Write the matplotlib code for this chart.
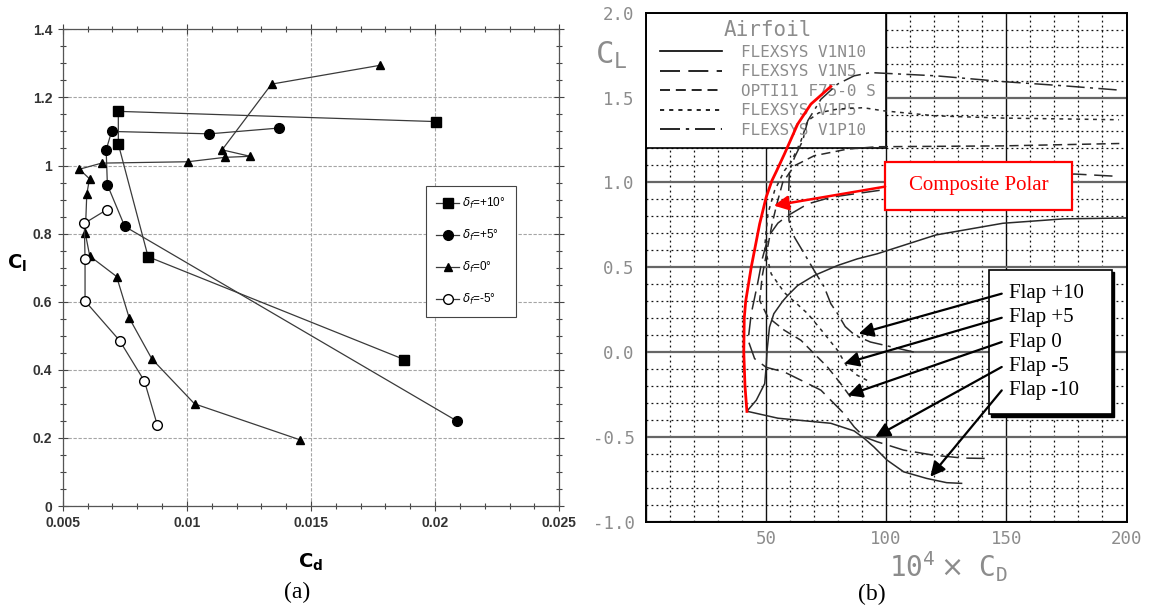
import matplotlib.pyplot as plt
from matplotlib.patches import Rectangle
from matplotlib.lines import Line2D
from matplotlib.ticker import MultipleLocator

W, H = 1153, 608

# --- (a) measured polars, cd vs cl, per flap setting
cd_p10 = [0.01876, 0.00844, 0.00724, 0.00724, 0.02003]
cl_p10 = [0.430, 0.732, 1.063, 1.159, 1.129]
cd_p5 = [0.02089, 0.00750, 0.00680, 0.00675, 0.00697, 0.01091, 0.01371]
cl_p5 = [0.249, 0.821, 0.943, 1.046, 1.100, 1.093, 1.110]
cd_0 = [0.01457, 0.01031, 0.00859, 0.00768, 0.00717, 0.00609, 0.00591, 0.00597,
        0.00608, 0.00567, 0.00657, 0.01004, 0.01154, 0.01255, 0.01142, 0.01341, 0.01776]
cl_0 = [0.194, 0.300, 0.432, 0.552, 0.674, 0.734, 0.801, 0.916,
        0.961, 0.989, 1.007, 1.011, 1.024, 1.027, 1.046, 1.239, 1.294]
cd_m5 = [0.00881, 0.00829, 0.00729, 0.00590, 0.00590, 0.00587, 0.00677]
cl_m5 = [0.238, 0.367, 0.486, 0.602, 0.725, 0.830, 0.870]
labels_a = [r'$\delta_f$=+10°', r'$\delta_f$=+5°', r'$\delta_f$=0°', r'$\delta_f$=-5°']

# --- (b) computed polars, 1e4*CD vs CL
cd_n10 = [131.4, 125.2, 116.9, 107.3, 100.4, 94.9, 91.0, 86.7, 77.0, 66.0, 55.0, 42.1,
          46.0, 49.5, 50.1, 50.5, 51.5, 53.3, 57.0, 59.1, 63.2, 70.1, 79.8, 88.0, 96.3,
          120.7, 148.6, 174.0, 199.5]
cl_n10 = [-0.774, -0.77, -0.745, -0.706, -0.637, -0.559, -0.51, -0.465, -0.42, -0.405, -0.39, -0.349,
          -0.284, -0.186, -0.088, 0.01, 0.147, 0.226, 0.30, 0.334, 0.392, 0.451, 0.51, 0.549, 0.579,
          0.69, 0.759, 0.785, 0.79]
cd_n5 = [141.0, 132.0, 119.7, 107.3, 96.3, 90.8, 86.7, 82.5, 77.0, 72.9, 66.0, 57.7, 50.1,
         45.3, 42.6, 43.9, 46.5, 48.5, 51.0, 55.0, 59.1, 67.4, 77.0, 86.7, 96.3, 120.0,
         150.0, 178.5, 197.0]
cl_n5 = [-0.627, -0.625, -0.608, -0.578, -0.529, -0.5, -0.441, -0.363, -0.284, -0.225, -0.176, -0.118, -0.09,
         -0.039, 0.069, 0.226, 0.40, 0.55, 0.68, 0.76, 0.804, 0.873, 0.912, 0.932, 0.951, 1.0,
         1.04, 1.049, 1.035]
cd_opt = [85.2, 81.1, 75.6, 70.1, 64.6, 57.7, 50.8, 47.4, 48.5, 50.5, 52.5, 54.5, 57.0,
          61.9, 70.1, 83.9, 96.3, 148.6, 197.0]
cl_opt = [-0.265, -0.186, -0.088, -0.01, 0.069, 0.128, 0.206, 0.304, 0.45, 0.6, 0.75, 0.87, 1.0,
          1.098, 1.157, 1.196, 1.21, 1.215, 1.229]
cd_p5b = [92.1, 88.0, 83.9, 79.8, 74.3, 67.4, 63.2, 57.7, 52.2, 49.5, 50.8, 53.6, 57.7,
          60.5, 64.6, 67.4, 72.0, 79.8, 90.5, 98.8, 120.7, 148.6, 196.9]
cl_p5b = [-0.167, -0.137, -0.088, 0.01, 0.108, 0.226, 0.28, 0.35, 0.461, 0.618, 0.814, 0.951, 1.069,
          1.12, 1.245, 1.363, 1.41, 1.432, 1.44, 1.422, 1.392, 1.379, 1.369]
cd_p10b = [111.5, 102.4, 93.5, 87.1, 83.0, 79.8, 77.0, 74.3, 70.1, 66.0, 61.9, 59.6, 59.4,
           59.8, 62.0, 65.3, 67.4, 72.9, 79.8, 86.7, 93.5, 120.7, 148.6, 174.0, 196.9]
cl_p10b = [0.0, 0.03, 0.059, 0.098, 0.15, 0.226, 0.285, 0.382, 0.48, 0.579, 0.676, 0.775, 0.912,
           1.069, 1.15, 1.245, 1.363, 1.49, 1.579, 1.628, 1.647, 1.628, 1.594, 1.569, 1.544]
cd_comp = [42.1, 41.3, 40.8, 41.0, 41.6, 43.9, 47.4, 50.1, 52.5, 54.5, 57.7, 63.2, 68.7, 77.0]
cl_comp = [-0.35, -0.2, 0.0, 0.2, 0.3, 0.5, 0.755, 0.912, 1.01, 1.069, 1.167, 1.343, 1.461, 1.565]
names_b = ['FLEXSYS V1N10', 'FLEXSYS V1N5', 'OPTI11 F75-0 S', 'FLEXSYS V1P5', 'FLEXSYS V1P10']

# flap labels and where their arrows point
flap_labels = ['Flap +10', 'Flap +5', 'Flap 0', 'Flap -5', 'Flap -10']
flap_text_y = [0.344, 0.202, 0.059, -0.088, -0.226]
flap_tip_cd = [88.6, 82.6, 84.0, 95.5, 118.4]
flap_tip_cl = [0.108, -0.068, -0.255, -0.5, -0.735]

fig = plt.figure(figsize=(W / 100, H / 100), dpi=100)
sans = 'Liberation Sans'
mono = 'DejaVu Sans Mono'
gray = '#8c8c8c'

# ===================== (a) =====================
ax1 = fig.add_axes([62.7 / W, 1 - 506 / H, 496.6 / W, 476.7 / H])
lc = '#3a3a3a'
ax1.plot(cd_p10, cl_p10, '-', color=lc, lw=0.9, marker='s', ms=6.5, mfc='k', mec='k', label=labels_a[0])
ax1.plot(cd_p5, cl_p5, '-', color=lc, lw=0.9, marker='o', ms=7, mfc='k', mec='k', label=labels_a[1])
ax1.plot(cd_0, cl_0, '-', color=lc, lw=0.9, marker='^', ms=5.5, mfc='k', mec='k', label=labels_a[2])
ax1.plot(cd_m5, cl_m5, '-', color=lc, lw=0.9, marker='o', ms=7, mfc='w', mec='k', label=labels_a[3])

ax1.set_xlim(0.005, 0.025)
ax1.set_ylim(0, 1.4)
ax1.set_xticks([0.005, 0.01, 0.015, 0.02, 0.025])
ax1.set_xticklabels(['0.005', '0.01', '0.015', '0.02', '0.025'])
ax1.set_yticks([0, 0.2, 0.4, 0.6, 0.8, 1.0, 1.2, 1.4])
ax1.set_yticklabels(['0', '0.2', '0.4', '0.6', '0.8', '1', '1.2', '1.4'])
ax1.xaxis.set_minor_locator(MultipleLocator(0.001))
ax1.yaxis.set_minor_locator(MultipleLocator(0.05))
ax1.tick_params(which='both', direction='inout', top=True, right=True, color='#444', width=0.8)
ax1.tick_params(which='major', length=7, labelsize=10, pad=4)
ax1.tick_params(which='minor', length=4)
for t in ax1.get_xticklabels() + ax1.get_yticklabels():
    t.set_family(sans)
    t.set_weight('bold')
    t.set_color('#333')
ax1.grid(True, which='major', color='#a5a5a5', lw=0.8, ls=(0, (3, 1.5)))
for s in ax1.spines.values():
    s.set_color('#555')
    s.set_linewidth(0.9)

leg1 = ax1.legend(loc='upper left', bbox_to_anchor=(0.731, 0.672), borderaxespad=0,
                  fancybox=False, framealpha=1, edgecolor='#444', handlelength=2.0,
                  handletextpad=0.25, labelspacing=1.45, borderpad=0.85,
                  prop={'family': sans, 'size': 8.5})
leg1.get_frame().set_linewidth(0.8)

fig.text(17 / W, 1 - 263 / H, r'$\mathbf{C_l}$', fontsize=14, ha='center', va='center')
fig.text(311 / W, 1 - 562 / H, r'$\mathbf{C_d}$', fontsize=14, ha='center', va='center')
fig.text(297 / W, 1 - 592 / H, '(a)', fontsize=17, family='Liberation Serif', ha='center', va='center')

# ===================== (b) =====================
ax2 = fig.add_axes([645.7 / W, 1 - 521.7 / H, 480.8 / W, 509 / H])
ax2.set_xlim(0, 200)
ax2.set_ylim(-1, 2)
ax2.set_xticks([0, 50, 100, 150, 200])
ax2.set_xticklabels(['', '50', '100', '150', '200'])
ax2.set_yticks([-1.0, -0.5, 0.0, 0.5, 1.0, 1.5, 2.0])
ax2.set_yticklabels(['-1.0', '-0.5', '0.0', '0.5', '1.0', '1.5', '2.0'])
ax2.xaxis.set_minor_locator(MultipleLocator(10))
ax2.yaxis.set_minor_locator(MultipleLocator(0.1))
ax2.tick_params(which='both', length=0, labelsize=12.5, labelcolor=gray, pad=8)
ax2.tick_params(axis='x', pad=6)
for t in ax2.get_xticklabels() + ax2.get_yticklabels():
    t.set_family(mono)
ax2.xaxis.grid(True, which='major', color='#111', lw=1.0)
ax2.yaxis.grid(True, which='major', color='#666', lw=1.6)
ax2.grid(True, which='minor', color='#111', lw=0.9, ls=(0, (1.5, 2.5)))
ax2.set_axisbelow(True)
for s in ax2.spines.values():
    s.set_color('k')
    s.set_linewidth(1.4)

# white panel holding the airfoil key
ax2.add_patch(Rectangle((0, 1.2), 100, 0.8, facecolor='w', edgecolor='k', lw=1.2, zorder=1))

cc = '#2a2a2a'
styles = ['-', (0, (12, 5)), (0, (6, 3.5)), (0, (2.5, 3)), (0, (12, 3.5, 2, 3.5))]
series = [(cd_n10, cl_n10), (cd_n5, cl_n5), (cd_opt, cl_opt), (cd_p5b, cl_p5b), (cd_p10b, cl_p10b)]
for (x, y), ls in zip(series, styles):
    ax2.plot(x, y, color=cc, lw=1.1, ls=ls, zorder=3)
ax2.plot(cd_comp, cl_comp, color='red', lw=2.0, zorder=4)

handles = [Line2D([], [], color='k', lw=1.2, ls=ls) for ls in styles]
leg2 = ax2.legend(handles, names_b, title='Airfoil', loc='upper left',
                  bbox_to_anchor=(0.0297, 0.985), borderaxespad=0, borderpad=0,
                  frameon=False, handlelength=3.9, handletextpad=1.2, labelspacing=0.28,
                  prop={'family': mono, 'size': 11.5},
                  title_fontproperties={'family': mono, 'size': 15})
for t in leg2.get_texts():
    t.set_color(gray)
leg2.get_title().set_color(gray)
leg2.set_zorder(2)

# composite polar callout
ax2.add_patch(Rectangle((99.6, 0.84), 77.7, 0.278, facecolor='w', edgecolor='red', lw=1.6, zorder=5))
ax2.text(138.4, 0.979, 'Composite Polar', color='red', fontsize=15, family='Liberation Serif',
         ha='center', va='center', zorder=6)
ax2.annotate('', xy=(53.3, 0.863), xytext=(99.6, 0.975),
             arrowprops=dict(arrowstyle='-|>', color='red', lw=1.8, mutation_scale=22,
                             shrinkA=0, shrinkB=0), zorder=6)

# flap callout box with drop shadow
ax2.add_patch(Rectangle((143.6, -0.380), 51, 0.853, facecolor='k', edgecolor='k', lw=1, zorder=5))
ax2.add_patch(Rectangle((142.8, -0.368), 51, 0.853, facecolor='w', edgecolor='k', lw=1.2, zorder=5))
for lab, ty, tx, tyy in zip(flap_labels, flap_text_y, flap_tip_cd, flap_tip_cl):
    ax2.text(151.2, ty, lab, fontsize=15, family='Liberation Serif', ha='left', va='center', zorder=6)
    ax2.annotate('', xy=(tx, tyy), xytext=(148.1, ty),
                 arrowprops=dict(arrowstyle='-|>', color='k', lw=1.6, mutation_scale=22,
                                 shrinkA=0, shrinkB=0), zorder=6)

fig.text(611 / W, 1 - 55 / H, r'$\mathtt{C}_{\mathtt{L}}$', fontsize=22, color=gray, ha='center', va='center')
fig.text(948 / W, 1 - 567 / H, r'$\mathtt{10}^{\mathtt{4}}\times\ \mathtt{C}_{\mathtt{D}}$', fontsize=20,
         color=gray, ha='center', va='center')
fig.text(872 / W, 1 - 594 / H, '(b)', fontsize=17, family='Liberation Serif', ha='center', va='center')

fig.savefig('out.png', dpi=100, facecolor='w')
